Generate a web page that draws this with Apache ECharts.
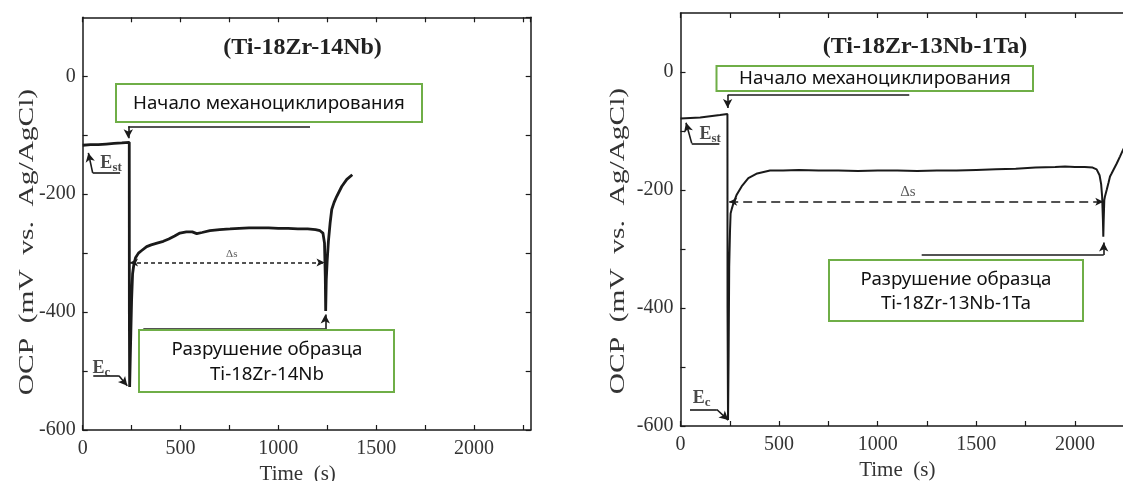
<!DOCTYPE html>
<html><head><meta charset="utf-8">
<script src="https://cdn.jsdelivr.net/npm/echarts@6/dist/echarts.min.js"></script>
<style>html,body{margin:0;padding:0;background:#fff}#c{width:1123px;height:481px}</style>
</head><body><div id="c"></div>
<script>
// ---------- data: left panel (Ti-18Zr-14Nb) ----------
const leftTime = [0,40,80,120,160,200,238,238.5,240,243,246,250,255,262,270,285,300,327,350,380,412,440,470,497,530,560,583,610,650,700,753,800,850,900,950,1000,1050,1100,1150,1190,1213,1228,1236,1240,1242,1245,1250,1256,1265,1273,1285,1298,1324,1350,1378];
const leftOCP  = [-117,-116,-116,-115,-114,-113,-112,-400,-527,-480,-436,-379,-335,-318,-308,-300,-296,-289,-286,-283,-280,-276,-271,-266,-264,-264,-267,-265,-262,-260,-259,-258,-257,-257,-257,-258,-258,-259,-259,-260,-262,-266,-283,-340,-398,-345,-311,-280,-248,-226,-214,-204,-187,-175,-167];
// ---------- data: right panel (Ti-18Zr-13Nb-1Ta) ----------
const rightTime = [0,50,100,150,200,238,238.5,241,244,247,251,254,260,268,285,310,344,389,454,520,600,700,800,900,1000,1100,1200,1300,1400,1500,1600,1700,1800,1900,1950,2000,2050,2090,2110,2125,2133,2138,2142,2144,2146,2149,2153,2161,2170,2178,2186,2195,2212,2229,2244,2260];
const rightOCP  = [-79,-78,-77,-75,-73,-71,-400,-590,-480,-330,-270,-240,-232,-223,-208,-194,-180,-172,-167,-167,-166,-167,-167,-168,-167,-167,-168,-167,-167,-166,-165,-164,-162,-161,-160,-161,-161,-162,-165,-175,-190,-211,-250,-279,-250,-217,-210,-200,-188,-177,-172,-166,-155,-143,-132,-122];

const titles = ['(Ti-18Zr-14Nb)', '(Ti-18Zr-13Nb-1Ta)'];
const startLabel = 'Начало механоциклирования';
const breakLabels = [['Разрушение образца','Ti-18Zr-14Nb'], ['Разрушение образца','Ti-18Zr-13Nb-1Ta']];
const yName = 'OCP  (mV  vs.  Ag/AgCl)';
const xName = 'Time  (s)';

// annotation anchors in data units [time, mV]
const leftStartArrow  = [[1162,-85],[233,-85],[233,-105]];
const leftBreakArrow  = [[310,-429],[1240,-429],[1240,-404]];
const leftDelta       = [[242,-316],[1236,-316]];
const leftEst         = [[191,-164],[51,-164],[29,-130]];
const leftEc          = [[54,-508],[185,-508],[228,-525]];
const rightStartArrow = [[1160,-39],[239,-39],[239,-61]];
const rightBreakArrow = [[1223,-310],[2146,-310],[2146,-289]];
const rightDelta      = [[247,-220],[2144,-220]];
const rightEst        = [[197,-121],[57,-121],[28,-86]];
const rightEc         = [[48,-572],[184,-572],[242,-590]];
const leftTextMarks   = [[762,-301,'ds'],[145,-147,'est'],[96,-495,'ec']];
const rightTextMarks  = [[1153,-203,'ds'],[150,-105,'est'],[107,-553,'ec']];

const SERIF = '"Liberation Serif","DejaVu Serif",serif';
const SANS = '"Noto Sans","Open Sans",sans-serif';
const INK = '#1a1a1a';

function zip(a,b){return a.map((t,i)=>[t,b[i]]);}
function poly(pts){ // polyline: plain segments, arrow on last
  const out=[];
  for(let i=0;i<pts.length-1;i++){
    const last = i===pts.length-2;
    out.push([{coord:pts[i],symbol:'none'},{coord:pts[i+1],symbol:last?'arrow':'none'}]);
  }
  return out;
}
function xAxes(g){
  const common = {gridIndex:g,type:'value',min:0,max:2290,interval:250,splitLine:{show:false},
    axisLine:{onZero:false,lineStyle:{color:INK,width:1.5}},
    axisTick:{inside:true,length:5,interval:0,lineStyle:{color:INK,width:1.2}}};
  return [
    Object.assign({},common,{position:'bottom',
      axisLabel:{formatter:v=>v%500===0?String(v):'',fontFamily:SERIF,fontSize:20,color:'#333',margin:9,showMaxLabel:false},
      name:xName,nameLocation:'middle',nameGap:34,nameMoveOverlap:false,
      nameTextStyle:{fontFamily:SERIF,fontSize:21,color:'#333',padding:[0,18,0,0]}}),
    Object.assign({},common,{position:'top',axisLabel:{show:false}})
  ];
}
function yAxes(g){
  const common = {gridIndex:g,type:'value',min:-600,max:100,interval:100,splitLine:{show:false},
    axisLine:{onZero:false,lineStyle:{color:INK,width:1.5}},
    axisTick:{inside:true,length:5,interval:0,lineStyle:{color:INK,width:1.2}}};
  return [
    Object.assign({},common,{position:'left',
      axisLabel:{formatter:v=>v%200===0?String(v):'',fontFamily:SERIF,fontSize:20,color:'#333',margin:7,showMaxLabel:false}}),
    Object.assign({},common,{position:'right',axisLabel:{show:false}})
  ];
}
function textMarks(list, dsSize){
  return list.map(([t,v,k])=>{
    let label;
    if(k==='ds') label={show:true,position:'inside',formatter:'Δs',fontFamily:SERIF,fontSize:dsSize,color:'#333'};
    else label={show:true,position:'inside',formatter:k==='est'?'{e|E}{s|st}':'{e|E}{s|c}',
      rich:{e:{fontFamily:SERIF,fontSize:18,color:INK,fontWeight:'bold'},
            s:{fontFamily:SERIF,fontSize:13,color:INK,fontWeight:'bold',padding:[9,0,0,0]}}};
    return {value:[t,v],label};
  });
}
function panel(g, time, ocp, lw, start, brk, delta, est, ec, marks, dashType, dsSize){
  const arrowLines = [].concat(poly(start),poly(brk),poly(est),poly(ec));
  return [
    {type:'line',xAxisIndex:2*g,yAxisIndex:2*g,data:zip(time,ocp),showSymbol:false,symbol:'none',
     lineStyle:{color:INK,width:lw},silent:true,z:3,
     markLine:{silent:true,symbolSize:[7,9],label:{show:false},lineStyle:{color:INK,width:1.6,type:'solid'},
       emphasis:{disabled:true},data:arrowLines}},
    {type:'scatter',xAxisIndex:2*g,yAxisIndex:2*g,symbolSize:0,silent:true,z:4,data:textMarks(marks,dsSize),
     markLine:{silent:true,symbol:['arrow','arrow'],symbolSize:[6,8],label:{show:false},
       lineStyle:{color:INK,width:1.6,type:dashType},emphasis:{disabled:true},
       data:[[{coord:delta[0]},{coord:delta[1]}]]}}
  ];
}
function box(x,y,w,h,lines,cx,ys,fs){
  const els=[{type:'rect',shape:{x,y,width:w,height:h},style:{fill:'#fff',stroke:'#6fae47',lineWidth:2},z:100}];
  lines.forEach((t,i)=>els.push({type:'text',x:cx,y:ys[i],z:101,
    style:{text:t,fill:'#111',font:fs+'px '+SANS,align:'center',verticalAlign:'middle'}}));
  return els;
}
function yTitle(x,y){
  return {type:'text',x,y,rotation:Math.PI/2,scaleX:1.4,z:101,
    style:{text:yName,fill:'#333',font:'21px '+SERIF,align:'center',verticalAlign:'middle'}};
}

const chart = echarts.init(document.getElementById('c'),null,{renderer:'canvas'});
chart.setOption({
  animation:false,
  backgroundColor:'#fff',
  grid:[
    {left:82.7,top:17.3,width:448,height:412.7,outerBoundsMode:'none',containLabel:false},
    {left:680.5,top:13,width:451.6,height:413,outerBoundsMode:'none',containLabel:false}
  ],
  xAxis:[].concat(xAxes(0),xAxes(1)),
  yAxis:[].concat(yAxes(0),yAxes(1)),
  series:[].concat(
    panel(0,leftTime,leftOCP,2.8,leftStartArrow,leftBreakArrow,leftDelta,leftEst,leftEc,leftTextMarks,[4,3],11),
    panel(1,rightTime,rightOCP,2,rightStartArrow,rightBreakArrow,rightDelta,rightEst,rightEc,rightTextMarks,[9,5],15)
  ),
  graphic:[].concat(
    [{type:'text',x:302.5,y:48,z:101,style:{text:titles[0],fill:'#222',font:'bold 24px '+SERIF,align:'center',verticalAlign:'middle'}},
     {type:'text',x:925,y:47,z:101,style:{text:titles[1],fill:'#222',font:'bold 24px '+SERIF,align:'center',verticalAlign:'middle'}},
     yTitle(27,242), yTitle(618,241)],
    box(116,84,306,38,[startLabel],269,[104],18.7),
    box(139,330,255,62,breakLabels[0],267,[350,375],18.7),
    box(716.5,66,316.5,25,[startLabel],875,[78.5],18.7),
    box(829,260,254,61,breakLabels[1],956,[279.5,303.5],18.7)
  )
});
</script></body></html>
